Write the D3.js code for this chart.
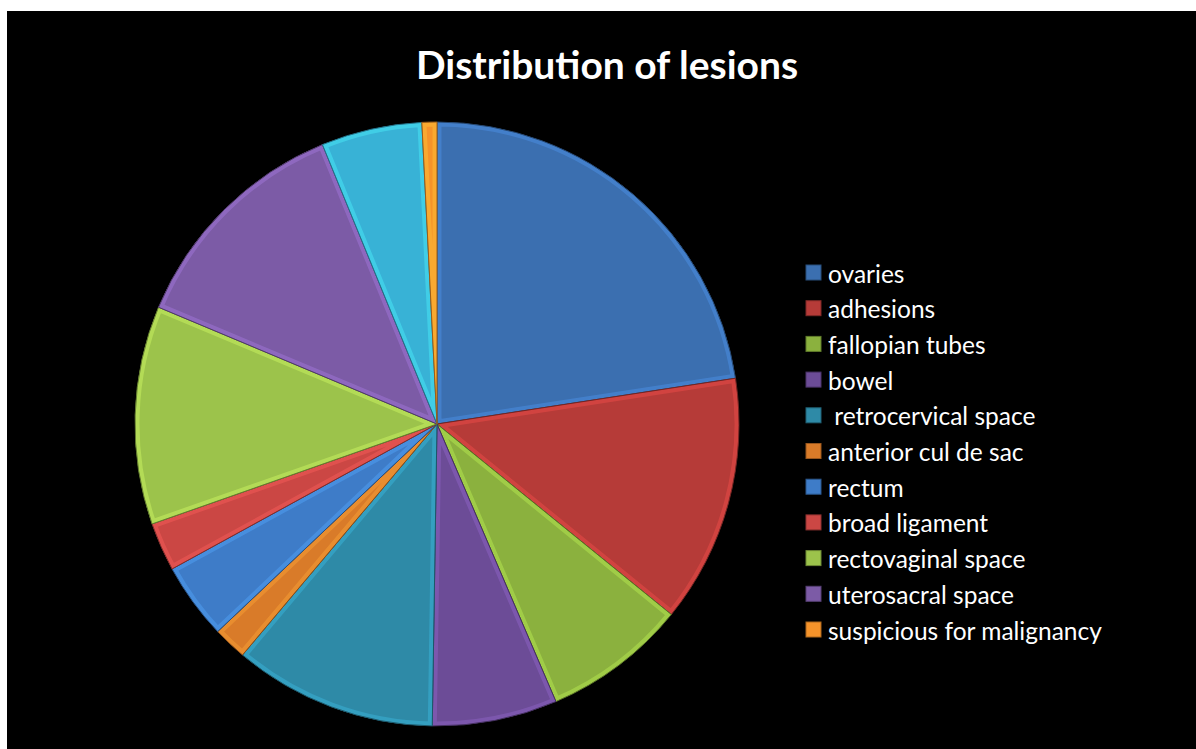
<!DOCTYPE html>
<meta charset="utf-8">
<script src="https://d3js.org/d3.v7.min.js"></script>
<style>
  body { margin:0; background:#fff; }
  text { font-family: Lato, "Open Sans", sans-serif; white-space: pre; }
</style>
<div id="chart"></div>
<script>

  // slice shares (percent), clockwise from 12 o'clock
  const categories = ["ovaries", "adhesions", "fallopian tubes", "bowel", " retrocervical space",
    "anterior cul de sac", "rectum", "broad ligament", "rectovaginal space", "uterosacral space",
    "", "suspicious for malignancy"];
  const values = [22.6, 13.3, 7.7, 6.7, 10.9, 1.8, 4.1, 2.6, 11.7, 12.5, 5.4, 0.8];
  const colors = ["#3b6fb0", "#b63b38", "#8bb13e", "#6c4c97", "#2e8aa7", "#d97b29",
    "#3e7cc8", "#cb4744", "#9cc34b", "#7c5ba6", "#38b2d6", "#f5932a"];

  const W = 1196, H = 749;
  const cx = 437, cy = 424, r = 302;

  const svg = d3.select("#chart").append("svg")
    .attr("width", W).attr("height", H);

  // black chart area
  svg.append("rect")
    .attr("x", 7).attr("y", 11)
    .attr("width", W - 7).attr("height", H - 11)
    .attr("fill", "#000");

  svg.append("text")
    .attr("x", 607).attr("y", 79)
    .attr("text-anchor", "middle")
    .attr("fill", "#fff")
    .style("font-size", "39px")
    .style("font-weight", "bold")
    .text("Distribution of lesions");

  const pie = d3.pie().sort(null).value(d => d.value);
  const arc = d3.arc().innerRadius(0).outerRadius(r);
  const data = pie(values.map((v, i) => ({ name: categories[i], value: v, color: colors[i] })));

  const g = svg.append("g").attr("transform", `translate(${cx},${cy})`);
  const defs = svg.append("defs");

  data.forEach((d, i) => {
    defs.append("clipPath").attr("id", "clip" + i)
      .append("path").attr("d", arc(d));
  });

  const slices = g.selectAll("g.slice")
    .data(data)
    .join("g")
    .attr("class", "slice");

  slices.append("path")
    .attr("d", arc)
    .attr("fill", d => d.data.color);

  // soft bevel: lighter rim inside each slice
  slices.append("path")
    .attr("d", arc)
    .attr("clip-path", (d, i) => `url(#clip${i})`)
    .attr("fill", "none")
    .attr("stroke", d => d3.color(d.data.color).brighter(0.9))
    .attr("stroke-width", 9)
    .attr("stroke-opacity", 0.4);

  slices.append("path")
    .attr("d", arc)
    .attr("fill", "none")
    .attr("stroke", d => d3.color(d.data.color).darker(1.3))
    .attr("stroke-width", 1);

  // legend (blank category has no entry)
  const legendItems = data.filter(d => d.data.name !== "");
  const legend = svg.append("g").attr("transform", "translate(806,272)");
  const rowH = 35.7;

  const rows = legend.selectAll("g")
    .data(legendItems)
    .join("g")
    .attr("transform", (d, i) => `translate(0,${i * rowH})`);

  rows.append("rect")
    .attr("x", 0).attr("y", -7)
    .attr("width", 15).attr("height", 15)
    .attr("fill", d => d.data.color)
    .attr("stroke", d => d3.color(d.data.color).darker(1))
    .attr("stroke-width", 1);

  rows.append("text")
    .attr("x", 22).attr("y", 1)
    .attr("dominant-baseline", "central")
    .attr("fill", "#fff")
    .style("font-size", "24.5px")
    .text(d => d.data.name);

</script>
